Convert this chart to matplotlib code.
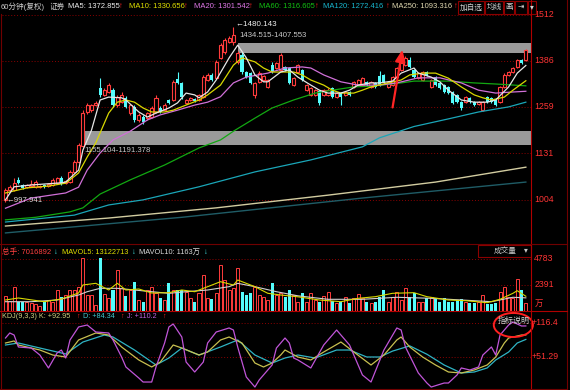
import matplotlib
matplotlib.use("Agg")
import matplotlib.pyplot as plt
from matplotlib.patches import Rectangle, Ellipse
import numpy as np

W, H = 570, 390

# 60 min candles
opens = [1003, 1030, 1030, 1058, 1044, 1039, 1041, 1039, 1039, 1044,
         1041, 1044, 1050, 1063, 1050, 1052, 1080, 1107, 1151, 1245,
         1250, 1264, 1311, 1292, 1300, 1305, 1264, 1272, 1284, 1242,
         1259, 1223, 1231, 1228, 1231, 1245, 1256, 1250, 1278, 1278,
         1336, 1325, 1270, 1278, 1281, 1278, 1286, 1333, 1347, 1339,
         1394, 1410, 1438, 1438, 1383, 1402, 1355, 1352, 1292, 1328,
         1333, 1314, 1374, 1366, 1361, 1369, 1366, 1319, 1355, 1361,
         1306, 1292, 1292, 1303, 1292, 1292, 1311, 1286, 1297, 1292,
         1300, 1314, 1319, 1319, 1328, 1314, 1325, 1344, 1347, 1314,
         1319, 1341, 1361, 1374, 1388, 1361, 1339, 1333, 1355, 1314,
         1341, 1325, 1319, 1314, 1300, 1292, 1272, 1272, 1284, 1272,
         1267, 1250, 1286, 1284, 1278, 1272, 1314, 1347, 1355, 1369,
         1388, 1388]
closes = [1030, 1039, 1050, 1050, 1036, 1044, 1047, 1052, 1041, 1039,
          1047, 1058, 1063, 1047, 1055, 1080, 1107, 1154, 1242, 1264,
          1264, 1270, 1292, 1305, 1319, 1264, 1286, 1292, 1259, 1264,
          1223, 1237, 1217, 1242, 1256, 1284, 1245, 1264, 1270, 1328,
          1325, 1286, 1278, 1284, 1275, 1292, 1341, 1347, 1333, 1383,
          1429, 1443, 1449, 1457, 1407, 1355, 1341, 1325, 1325, 1352,
          1344, 1333, 1355, 1380, 1402, 1361, 1325, 1339, 1374, 1333,
          1319, 1311, 1306, 1270, 1306, 1306, 1286, 1297, 1286, 1300,
          1292, 1328, 1333, 1339, 1319, 1328, 1314, 1319, 1325, 1328,
          1341, 1366, 1380, 1394, 1369, 1341, 1352, 1355, 1347, 1333,
          1319, 1311, 1300, 1297, 1270, 1272, 1256, 1286, 1272, 1264,
          1272, 1272, 1272, 1272, 1264, 1314, 1347, 1355, 1366, 1388,
          1380, 1416]
highs = [1036, 1044, 1063, 1066, 1047, 1047, 1058, 1058, 1044, 1047,
         1050, 1063, 1066, 1069, 1058, 1085, 1113, 1160, 1250, 1270,
         1267, 1275, 1339, 1311, 1325, 1311, 1292, 1300, 1289, 1267,
         1264, 1242, 1237, 1245, 1261, 1292, 1261, 1270, 1281, 1333,
         1355, 1328, 1281, 1286, 1284, 1294, 1347, 1352, 1352, 1388,
         1435, 1449, 1455, 1480.143, 1413, 1410, 1358, 1355, 1328, 1358,
         1347, 1336, 1383, 1383, 1407, 1372, 1369, 1341, 1377, 1363,
         1322, 1314, 1308, 1306, 1308, 1311, 1314, 1300, 1300, 1303,
         1303, 1330, 1336, 1341, 1330, 1330, 1328, 1358, 1350, 1330,
         1344, 1369, 1383, 1399, 1396, 1363, 1355, 1358, 1358, 1336,
         1344, 1328, 1322, 1316, 1303, 1294, 1275, 1289, 1286, 1275,
         1275, 1275, 1289, 1286, 1281, 1316, 1352, 1358, 1369, 1391,
         1391, 1418]
lows = [997.941, 1025, 1027, 1047, 1033, 1036, 1038, 1036, 1036, 1036,
        1039, 1041, 1047, 1044, 1047, 1050, 1077, 1104, 1148, 1240,
        1245, 1261, 1286, 1289, 1297, 1259, 1259, 1270, 1256, 1237,
        1218, 1218, 1212, 1223, 1228, 1242, 1242, 1248, 1267, 1275,
        1322, 1281, 1267, 1275, 1272, 1275, 1283, 1330, 1330, 1336,
        1390, 1405, 1435, 1430, 1377, 1350, 1338, 1322, 1284, 1325,
        1330, 1311, 1352, 1363, 1358, 1358, 1322, 1316, 1352, 1330,
        1303, 1289, 1289, 1264, 1289, 1289, 1283, 1283, 1264, 1289,
        1289, 1311, 1316, 1316, 1316, 1311, 1311, 1316, 1322, 1311,
        1316, 1338, 1358, 1372, 1366, 1338, 1336, 1330, 1344, 1311,
        1316, 1308, 1297, 1294, 1267, 1270, 1250, 1270, 1270, 1261,
        1264, 1248, 1270, 1270, 1261, 1270, 1311, 1344, 1352, 1366,
        1377, 1385]
# 成交量 (万手)
volumes = [1334, 900, 2190, 810, 810, 813, 660, 600, 414, 813,
           966, 813, 1886, 1272, 1426, 1886, 1886, 2192, 4800, 1426,
           1426, 506, 4800, 1518, 1119, 1886, 3726, 2040, 1334, 1886,
           2650, 966, 813, 1886, 2192, 1580, 1119, 966, 2560, 1886,
           1886, 1886, 1730, 1119, 813, 1580, 3266, 1119, 1027, 1580,
           4186, 2806, 1886, 2040, 3880, 1730, 1426, 1580, 2192, 1426,
           1272, 966, 2500, 1426, 1580, 1272, 1886, 1426, 813, 1640,
           813, 1580, 966, 813, 1334, 1730, 905, 721, 813, 1272,
           660, 1119, 1518, 1119, 813, 660, 813, 1272, 1886, 813,
           1272, 1730, 966, 2100, 1272, 1580, 813, 813, 1119, 1272,
           1027, 813, 1119, 813, 813, 966, 1027, 813, 660, 660,
           813, 1426, 567, 598, 660, 1730, 2190, 1272, 1119, 2867,
           1886, 702]

# moving averages (bar index, value)
ma5_i = [0, 2, 6, 13, 14, 17, 18, 20, 22, 24, 27, 28, 31, 33, 35, 38, 40, 42, 44, 45,
         47, 49, 52, 54, 56, 58, 60, 61, 64, 66, 68, 71, 73, 75, 78, 80, 82, 85, 87, 90,
         92, 95, 96, 99, 101, 103, 106, 109, 112, 114, 117, 119, 121]
ma5_v = [1003, 1039, 1044, 1050, 1052, 1085, 1140, 1195, 1278, 1286, 1284, 1278, 1245, 1231, 1242, 1256, 1270, 1297, 1292, 1284,
         1300, 1333, 1394, 1429, 1394, 1347, 1328, 1328, 1355, 1361, 1341, 1319, 1305, 1297, 1297, 1305, 1319, 1325, 1325, 1330,
         1352, 1366, 1352, 1341, 1328, 1305, 1278, 1272, 1272, 1278, 1314, 1352, 1373]
ma10_i = [0, 5, 10, 14, 17, 19, 21, 24, 26, 28, 30, 32, 34, 37, 39, 42, 45, 47, 50, 53,
          55, 58, 60, 62, 65, 67, 69, 71, 74, 76, 78, 81, 83, 85, 89, 92, 94, 97, 100, 103,
          106, 109, 111, 113, 116, 118, 121]
ma10_v = [1022, 1036, 1041, 1049, 1077, 1121, 1160, 1242, 1272, 1278, 1272, 1256, 1245, 1245, 1250, 1264, 1278, 1292, 1319, 1374,
          1394, 1383, 1366, 1355, 1355, 1355, 1347, 1333, 1319, 1305, 1297, 1297, 1305, 1314, 1325, 1333, 1347, 1352, 1352, 1338,
          1314, 1292, 1284, 1278, 1286, 1305, 1331]
ma20_i = [0, 6, 14, 17, 19, 22, 25, 29, 33, 36, 40, 44, 47, 50, 53, 56, 61, 65, 69, 71,
          74, 78, 82, 87, 91, 96, 101, 106, 110, 114, 118, 121]
ma20_v = [980, 1008, 1022, 1038, 1085, 1132, 1168, 1192, 1223, 1237, 1250, 1264, 1272, 1287, 1325, 1341, 1352, 1366, 1369, 1366,
          1347, 1328, 1319, 1319, 1325, 1339, 1339, 1325, 1305, 1297, 1300, 1302]
ma60_i = [0, 7, 15, 18, 22, 29, 37, 45, 50, 53, 58, 62, 67, 72, 76, 81, 85, 92, 95, 103, 109, 114, 121]
ma60_v = [948, 955, 970, 981, 1019, 1058, 1099, 1146, 1168, 1192, 1228, 1256, 1278, 1297, 1305, 1314, 1316, 1325, 1330, 1330,
          1325, 1322, 1317]
ma120_i = [0, 16, 24, 32, 45, 58, 71, 83, 87, 95, 103, 110, 117, 121]
ma120_v = [942, 961, 989, 1003, 1039, 1080, 1113, 1149, 1174, 1205, 1226, 1245, 1259, 1272]
ma250_i = [0, 24, 49, 75, 100, 121]
ma250_v = [931, 953, 981, 1016, 1052, 1093]
malong_i = [0, 41, 83, 121]
malong_v = [912, 955, 1008, 1052]

mavol5_i = [0, 3, 9, 13, 17, 18, 21, 24, 26, 28, 31, 34, 38, 41, 44, 47, 50, 53, 54, 58,
            61, 64, 68, 73, 78, 82, 86, 90, 95, 98, 103, 107, 112, 115, 118, 119, 121]
mavol5_v = [966, 1150, 810, 1058, 1610, 2346, 2502, 1886, 2502, 1886, 1978, 1610, 1638, 1886, 1730, 2190, 2650, 2346, 2806, 2190,
            1582, 1426, 1260, 966, 810, 1122, 1270, 1582, 1638, 1270, 966, 902, 718, 1030, 1582, 1822, 1312]
mavol10_i = [0, 6, 12, 17, 19, 22, 26, 30, 34, 38, 42, 47, 52, 54, 58, 63, 68, 75, 83, 91,
             99, 106, 113, 118, 121]
mavol10_v = [810, 810, 966, 1426, 1730, 2040, 2040, 1886, 1730, 1580, 1730, 1886, 2192, 2500, 2192, 1730, 1350, 1030, 1030, 1216,
             1122, 966, 810, 1216, 1163]

# KDJ(9,3,3)
k_i = [0, 2, 3, 8, 11, 14, 17, 21, 24, 27, 31, 34, 36, 39, 41, 45, 47, 50, 52, 55,
       58, 60, 62, 64, 65, 68, 71, 74, 78, 81, 85, 88, 91, 92, 94, 97, 100, 103, 106, 109,
       112, 114, 116, 117, 120, 121]
k_v = [77.5, 81.4, 73.7, 64.1, 54.5, 50.7, 83.3, 96.7, 92.8, 69.9, 45.0, 31.6, 41.1, 73.7, 67.9, 54.5, 60.3, 83.3, 89.0, 77.5,
       39.2, 31.6, 39.2, 54.5, 64.1, 50.7, 45.0, 60.3, 79.4, 60.3, 35.4, 54.5, 83.3, 89.0, 69.9, 50.7, 35.4, 22.0, 20.1, 25.8,
       35.4, 50.7, 77.5, 87.1, 92.8, 92.95]
d_i = [0, 3, 8, 13, 14, 18, 23, 25, 30, 35, 38, 41, 45, 50, 54, 58, 62, 65, 68, 72,
       77, 80, 84, 87, 90, 94, 98, 102, 106, 109, 112, 114, 117, 119, 121]
d_v = [73.7, 77.5, 67.9, 58.4, 56.5, 79.4, 92.8, 89.0, 64.1, 35.4, 48.8, 67.9, 54.5, 69.9, 83.3, 54.5, 39.2, 48.8, 54.5, 48.8,
       64.1, 64.1, 50.7, 50.7, 62.0, 72.0, 56.0, 35.4, 20.1, 22.0, 29.7, 45.0, 60.3, 77.5, 84.34]
j_i = [0, 1, 2, 3, 6, 8, 10, 12, 13, 14, 15, 17, 19, 21, 24, 25, 27, 28, 31, 32,
       34, 35, 37, 38, 39, 41, 42, 44, 46, 47, 49, 52, 53, 54, 56, 58, 59, 62, 63, 65,
       66, 67, 68, 71, 74, 77, 80, 83, 85, 88, 91, 92, 93, 96, 98, 99, 102, 103, 105, 106,
       108, 110, 111, 113, 114, 115, 117, 118, 120, 121]
j_v = [87.1, 96.7, 92.8, 69.9, 67.9, 54.5, 29.7, 58.4, 64.1, 48.8, 83.3, 108.2, 112.0, 98.6, 96.7, 83.3, 50.7, 31.6, 10.5, 2.8,
       2.8, 31.6, 77.5, 108.2, 113.9, 89.0, 41.1, 22.0, 41.1, 77.5, 98.6, 106.3, 102.4, 69.9, 12.4, -6.8, 6.7, 35.4, 67.9, 87.1,
       77.5, 48.8, 45.0, 29.7, 73.7, 102.4, 73.7, 16.3, 2.8, 64.1, 106.3, 102.4, 69.9, 20.1, 0.9, -6.8, 0.9, 0.9, 16.3, 29.7,
       25.8, 31.6, 54.5, 69.9, 54.5, 92.8, 112.0, 117.7, 110.1, 110.2]

price_ticks = [1512, 1386, 1259, 1131, 1004]
vol_ticks = [4783, 2391]
kdj_ticks = [116.4, 51.29]

RED = '#ff3c3c'
CYAN = '#54fcfc'
GRID = '#8c0000'
AXRED = '#b00000'
LBL = '#ff3434'

plt.rcParams['font.family'] = ['Liberation Sans', 'Noto Sans CJK SC', 'DejaVu Sans']

fig = plt.figure(figsize=(W / 100, H / 100), dpi=100, facecolor='black')


def px_axes(x0, y0, x1, y1):
    return fig.add_axes([x0 / W, 1 - y1 / H, (x1 - x0) / W, (y1 - y0) / H], facecolor='black')


def put(x, y, s, color, size=5.5, ha='left', **kw):
    fig.text(x / W, 1 - y / H, s, color=color, fontsize=size, ha=ha, va='center', **kw)


def fline(xs, ys, color, lw=0.8, ls='-'):
    fig.add_artist(plt.Line2D([x / W for x in xs], [1 - y / H for y in ys], color=color, lw=lw, ls=ls,
                              transform=fig.transFigure))


def fbox(x0, y0, x1, y1, edge='#8c0000', face='black'):
    fig.add_artist(Rectangle((x0 / W, 1 - y1 / H), (x1 - x0) / W, (y1 - y0) / H, transform=fig.transFigure,
                             facecolor=face, edgecolor=edge, lw=0.8))


ax = px_axes(2, 14, 531, 244)
axv = px_axes(2, 244, 531, 310.5)
axk = px_axes(2, 311, 531, 388)
for a in (ax, axv, axk):
    a.set_xlim(-0.81, 122.2)
    a.set_xticks([])
    a.set_yticks([])
    for s in a.spines.values():
        s.set_visible(False)
ax.set_ylim(881.5, 1514.75)
axv.set_ylim(0, 6118)
axk.set_ylim(-8.65, 138.8)

dot = (0, (1, 2))
for t in price_ticks:
    ax.axhline(t, color=GRID, lw=0.7, ls=dot, zorder=0)
    ax.text(1.006, t, str(t), transform=ax.get_yaxis_transform(), color=LBL, fontsize=6.3,
            ha='left', va='center', clip_on=False)
for t in vol_ticks:
    axv.axhline(t, color=GRID, lw=0.7, ls=dot, zorder=0)
    axv.text(1.006, t, str(t), transform=axv.get_yaxis_transform(), color=LBL, fontsize=6.3,
             ha='left', va='center', clip_on=False)
for t in kdj_ticks:
    axk.axhline(t, color=GRID, lw=0.7, ls=dot, zorder=0)
    axk.text(1.002, t, '+' + str(t), transform=axk.get_yaxis_transform(), color=LBL, fontsize=6.3,
             ha='left', va='center', clip_on=False)
put(535, 304, '万', LBL, size=6.0)

# support / resistance zones
ax.add_patch(Rectangle((54.1, 1407.553), 122.2 - 54.1, 1434.515 - 1407.553, facecolor='#9a9a9a',
                       edgecolor='none', zorder=1))
ax.add_patch(Rectangle((18.0, 1155.104), 122.2 - 18.0, 1191.378 - 1155.104, facecolor='#9a9a9a',
                       edgecolor='none', zorder=1))

# candles
o = np.array(opens, float)
c = np.array(closes, float)
hi = np.array(highs, float)
lo = np.array(lows, float)
idx = np.arange(len(c))
up = c >= o
bot = np.minimum(o, c)
hgt = np.maximum(np.abs(c - o), 1.8)
ax.vlines(idx[up], lo[up], hi[up], color=RED, lw=0.8, zorder=3)
ax.vlines(idx[~up], lo[~up], hi[~up], color=CYAN, lw=0.8, zorder=3)
ax.bar(idx[up], hgt[up], bottom=bot[up], width=0.72, facecolor='black', edgecolor=RED, lw=0.8, zorder=4)
ax.bar(idx[~up], hgt[~up], bottom=bot[~up], width=0.72, color=CYAN, lw=0, zorder=4)

# moving averages
ax.plot(malong_i, malong_v, color='#1f5c66', lw=1.0, zorder=5)
ax.plot(ma250_i, ma250_v, color='#d2cca0', lw=1.0, zorder=5)
ax.plot(ma120_i, ma120_v, color='#1aa6b8', lw=0.9, zorder=5)
ax.plot(ma60_i, ma60_v, color='#12a812', lw=0.9, zorder=5)
ax.plot(ma20_i, ma20_v, color='#d070d8', lw=0.9, zorder=5)
ax.plot(ma10_i, ma10_v, color='#d8d800', lw=0.9, zorder=5)
ax.plot(ma5_i, ma5_v, color='#e6e6e6', lw=0.9, zorder=5)

txt = '#d8d8d8'
ax.text(53.4, 1487, '←1480.143', color='#f0f0f0', fontsize=5.8, ha='left', va='center', zorder=6)
ax.text(54.4, 1455, '1434.515-1407.553', color='#c8c8c8', fontsize=5.6, ha='left', va='center', zorder=6)
ax.text(18.3, 1138, '1155.104-1191.378', color='#c8c8c8', fontsize=5.6, ha='left', va='center', zorder=6)
ax.text(0.1, 1001, '←997.941', color=txt, fontsize=5.6, ha='left', va='center', zorder=6)
ax.annotate('', xy=(92.4, 1424), xytext=(89.9, 1250),
            arrowprops=dict(arrowstyle='-|>,head_width=0.3,head_length=0.7', color='#ff2424', lw=1.6),
            zorder=8)

# volume
vol = np.array(volumes, float)
axv.bar(idx[up], vol[up], width=0.7, facecolor='black', edgecolor=RED, lw=0.7, zorder=2)
axv.bar(idx[~up], vol[~up], width=0.7, color=CYAN, lw=0, zorder=2)
axv.plot(mavol10_i, mavol10_v, color='#d0d0d0', lw=0.8, zorder=3)
axv.plot(mavol5_i, mavol5_v, color='#d8d800', lw=0.8, zorder=3)

# KDJ
axk.plot(d_i, d_v, color='#2fb4c4', lw=0.9)
axk.plot(k_i, k_v, color='#c8c050', lw=0.9)
axk.plot(j_i, j_v, color='#c055d8', lw=0.9)
axk.add_patch(Ellipse((118.1, 112), 9.1, 46, facecolor='none', edgecolor='#ff2020', lw=1.4,
                      clip_on=False, zorder=6))
axk.text(118.1, 119.7, '指标说明', color='#d0d0d0', fontsize=5.8, ha='center', va='center', zorder=7,
         clip_on=False)

# frame lines
fline([531, 531], [0, 390], AXRED)
fline([567, 567], [0, 390], '#700000')
fline([1, 1], [14, 390], '#700000')
fline([0, 567], [244, 244], '#700000')
fline([0, 567], [310.5, 310.5], AXRED)
fline([0, 567], [388.5, 388.5], '#700000')

# header
put(1, 7, '60分钟(复权)', '#cccccc')
put(50, 7, '证券', '#cccccc')
hdr = [(68, 'MA5: 1372.855', '#eeeeee', 119), (129, 'MA10: 1330.656', '#e0e000', 184),
       (194, 'MA20: 1301.542', '#e078e8', 249), (259, 'MA60: 1316.605', '#12c012', 315),
       (323, 'MA120: 1272.416', '#18b8d0', 386), (392, 'MA250: 1093.316', '#e0d8b0', 454)]
for x, s, col, xa in hdr:
    put(x, 7, s, col)
    put(xa, 7, '↑', '#ff2020')
for x0, x1, s in [(458, 484, '加自选'), (485, 503, '均线'), (504, 514, '画'), (515, 527, '⇥'), (528, 536, '▾')]:
    fbox(x0, 1, x1, 14)
    put((x0 + x1) / 2, 7.5, s, '#d0d0d0', size=5.5, ha='center')

# volume header
put(2, 252, '总手: 7016892', '#ff4040')
put(54, 252, '↓', '#40e8e8')
put(62, 252, 'MAVOL5: 13122713', '#e0e000', size=5.3)
put(132, 252, '↓', '#40e8e8')
put(139, 252, 'MAVOL10: 1163万', '#d8d8d8', size=5.3)
put(204, 252, '↓', '#40e8e8')
fbox(478, 245, 531, 257)
put(505, 251, '成交量', '#c8c8c8', size=5.5, ha='center')
put(526, 251, '▾', '#c8c8c8', size=5.5, ha='center')

# KDJ header
put(2, 316, 'KDJ(9,3,3) K: +92.95', '#d0d080', size=5.2)
put(76, 316, '↑', '#ff2020', size=5.2)
put(83, 316, 'D: +84.34', '#40c8d0', size=5.2)
put(120, 316, '↑', '#ff2020', size=5.2)
put(127, 316, 'J: +110.2', '#c060e0', size=5.2)
put(162, 316, '↑', '#ff2020', size=5.2)

fig.savefig('out.png', dpi=100, facecolor='black')
